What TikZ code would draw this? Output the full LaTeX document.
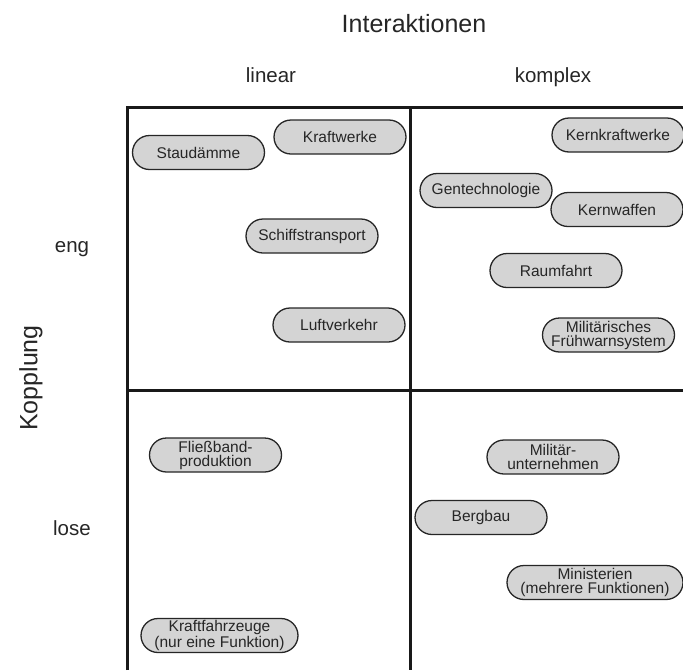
\documentclass[tikz,border=0pt]{standalone}
\usepackage{fontspec}
\setmainfont{Liberation Sans}

\tikzset{
  pill/.style={rectangle, rounded corners=17pt, draw=black!85, line width=1.3pt,
    fill=black!17, minimum width=132pt, minimum height=34pt, inner sep=0pt,
    align=center, text=black!85, font=\fontsize{15.5pt}{14pt}\selectfont},
  axislabel/.style={anchor=base, text=black!85, font=\fontsize{20.5pt}{24pt}\selectfont},
  titlelabel/.style={text=black!85, font=\fontsize{25pt}{30pt}\selectfont},
  gridline/.style={line width=3pt, black!90}
}

\begin{document}
\begin{tikzpicture}[x=1pt, y=-1pt]

    \useasboundingbox (0,0) rectangle (683,670);

    % Draw the titles.
    \node[titlelabel, anchor=base] (interaktionen) at (414, 32) {Interaktionen};
    \node[titlelabel, rotate=90] (kopplung) at (31, 378) {Kopplung};

    % Draw the column and row labels.
    \node[axislabel] (linear) at (271, 82) {linear};
    \node[axislabel] (komplex) at (553, 82) {komplex};
    \node[axislabel] (eng) at (72, 252) {eng};
    \node[axislabel] (lose) at (72, 535) {lose};

    % Draw the grid.
    \draw[gridline] (127,670) -- (127,107) -- (683,107);
    \draw[gridline] (410,107) -- (410,670);
    \draw[gridline] (127,390) -- (683,390);

    % Draw the systems.
    % Linear, eng.
    \node[pill] (kraftwerke) at (340, 137) {Kraftwerke};
    \node[pill] (staudaemme) at (198.5, 152.5) {Staudämme};
    \node[pill] (schiff) at (312, 236) {Schiffstransport};
    \node[pill] (luft) at (339, 325) {Luftverkehr};
    % Komplex, eng.
    \node[pill] (kernkraft) at (618, 135) {Kernkraftwerke};
    \node[pill] (gentech) at (486, 190.5) {Gentechnologie};
    \node[pill] (kernwaffen) at (617, 209.5) {Kernwaffen};
    \node[pill] (raumfahrt) at (556, 270.5) {Raumfahrt};
    \node[pill] (fruehwarn) at (608.5, 335) {Militärisches\\Frühwarnsystem};
    % Linear, lose.
    \node[pill] (fliessband) at (215.5, 455) {Fließband-\\produktion};
    \node[pill, minimum width=157pt] (kfz) at (219.5, 635.5) {Kraftfahrzeuge\\(nur eine Funktion)};
    % Komplex, lose.
    \node[pill] (militaer) at (553, 457) {Militär-\\unternehmen};
    \node[pill] (bergbau) at (481, 517.5) {Bergbau};
    \node[pill, minimum width=176pt] (ministerien) at (595, 582.5) {Ministerien\\(mehrere Funktionen)};
\end{tikzpicture}
\end{document}
